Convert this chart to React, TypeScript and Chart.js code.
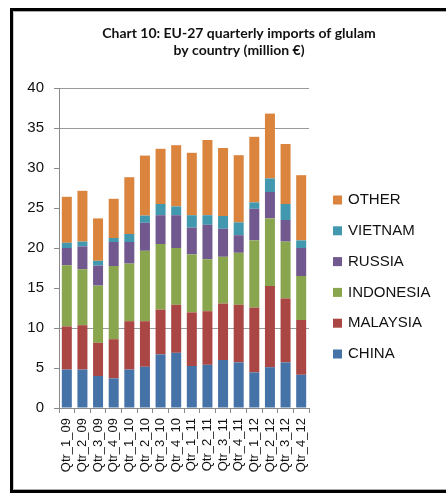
import React, { useEffect, useRef } from 'react';
import { Chart, registerables } from 'chart.js';

Chart.register(...registerables);

const titleLines = ['Chart 10: EU-27 quarterly imports of glulam', 'by country (million €)'];

const categories = [
  'Qtr_1_09', 'Qtr_2_09', 'Qtr_3_09', 'Qtr_4_09',
  'Qtr_1_10', 'Qtr_2_10', 'Qtr_3_10', 'Qtr_4_10',
  'Qtr_1_11', 'Qtr_2_11', 'Qtr_3_11', 'Qtr_4_11',
  'Qtr_1_12', 'Qtr_2_12', 'Qtr_3_12', 'Qtr_4_12',
];

const china = [4.8, 4.8, 4.0, 3.7, 4.8, 5.15, 6.7, 6.9, 5.25, 5.4, 6.0, 5.7, 4.45, 5.1, 5.7, 4.15];
const malaysia = [5.4, 5.55, 4.15, 4.9, 6.05, 5.7, 5.6, 6.0, 6.7, 6.7, 7.05, 7.2, 8.1, 10.15, 8.0, 6.85];
const indonesia = [7.65, 7.0, 7.15, 9.15, 7.2, 8.8, 8.2, 7.1, 7.25, 6.5, 5.85, 6.5, 8.4, 8.45, 7.1, 5.5];
const russia = [2.15, 2.85, 2.5, 3.0, 2.7, 3.5, 3.6, 4.1, 3.35, 4.3, 3.5, 2.2, 3.95, 3.3, 2.7, 3.5];
const vietnam = [0.65, 0.6, 0.6, 0.5, 1.0, 0.9, 1.4, 1.1, 1.55, 1.2, 1.6, 1.6, 0.8, 1.7, 2.0, 0.95];
const other = [5.75, 6.35, 5.3, 4.9, 7.1, 7.5, 6.9, 7.65, 7.8, 9.4, 8.5, 8.4, 8.2, 8.1, 7.5, 8.15];

const seriesNames = ['CHINA', 'MALAYSIA', 'INDONESIA', 'RUSSIA', 'VIETNAM', 'OTHER'];
const seriesColors = ['#4572A7', '#AA4643', '#89A54E', '#71588F', '#4198AF', '#DB843D'];
const seriesValues = [china, malaysia, indonesia, russia, vietnam, other];

const yMin = 0;
const yMax = 40;
const yStep = 5;
const visibleGridValues = [10, 35, 40];

const FONT = '"Liberation Sans", Arial, sans-serif';

// The original chart is cropped on the right: draw on a wider canvas, show 446px.
const CANVAS_W = 470;
const CANVAS_H = 493;

const sideLegend = {
  id: 'sideLegend',
  afterDraw(chart: any) {
    const ctx = chart.ctx;
    const ds = chart.data.datasets;
    const x = chart.chartArea.right + 24;
    let y = 200;
    ctx.save();
    ctx.font = `15px ${FONT}`;
    ctx.textBaseline = 'middle';
    ctx.textAlign = 'left';
    for (let i = ds.length - 1; i >= 0; i--) {
      ctx.fillStyle = ds[i].backgroundColor;
      ctx.fillRect(x, y - 4.5, 9, 9);
      ctx.fillStyle = '#111';
      ctx.fillText(ds[i].label, x + 15, y);
      y += 30.8;
    }
    ctx.restore();
  },
};

export default function App() {
  const ref = useRef<HTMLCanvasElement | null>(null);

  useEffect(() => {
    if (!ref.current) return;
    const chart = new Chart(ref.current, {
      type: 'bar',
      data: {
        labels: categories,
        datasets: seriesNames.map((name, i) => ({
          label: name,
          data: seriesValues[i],
          backgroundColor: seriesColors[i],
          borderWidth: 0,
          categoryPercentage: 1,
          barPercentage: 0.64,
        })),
      },
      options: {
        responsive: false,
        animation: false,
        layout: { padding: { left: 8, right: 0, top: 0, bottom: 0 } },
        plugins: {
          legend: { display: false },
          tooltip: { enabled: false },
          title: {
            display: true,
            text: titleLines,
            color: '#111',
            font: { family: 'Lato, ' + FONT, size: 14, weight: 'bold', lineHeight: 1.2 },
            padding: { top: 25, bottom: 29.4 },
          },
        },
        scales: {
          x: {
            stacked: true,
            grid: {
              display: true,
              offset: true,
              drawOnChartArea: false,
              drawTicks: true,
              tickLength: 5,
              tickColor: '#8a8a8a',
            },
            border: { display: true, color: '#8a8a8a', width: 1 },
            ticks: {
              autoSkip: false,
              minRotation: 90,
              maxRotation: 90,
              padding: 5,
              color: '#111',
              font: { family: FONT, size: 13 },
            },
            afterFit: (s: any) => { s.height = 85; },
          },
          y: {
            stacked: true,
            min: yMin,
            max: yMax,
            ticks: {
              stepSize: yStep,
              padding: 10,
              color: '#111',
              font: { family: FONT, size: 15 },
            },
            grid: {
              drawTicks: true,
              tickLength: 5,
              tickColor: '#8a8a8a',
              color: (c: any) => (c.tick && visibleGridValues.includes(c.tick.value) ? '#9a9a9a' : 'rgba(0,0,0,0)'),
              lineWidth: 1,
            },
            border: { display: true, color: '#8a8a8a', width: 1 },
            afterFit: (s: any) => { s.width = 51; },
          },
          spacer: {
            type: 'linear',
            position: 'right',
            display: true,
            grid: { display: false, drawTicks: false },
            ticks: { display: false },
            border: { display: false },
            afterFit: (s: any) => { s.width = CANVAS_W - 309; },
          },
        },
      },
      plugins: [sideLegend],
    } as any);
    return () => chart.destroy();
  }, []);

  return (
    <div style={{ position: 'fixed', left: 0, top: 0, width: 446, height: 493, background: '#fff', overflow: 'hidden' }}>
      <canvas ref={ref} width={CANVAS_W} height={CANVAS_H} style={{ position: 'absolute', left: 0, top: 0, width: CANVAS_W, height: CANVAS_H }} />
      <div
        style={{
          position: 'absolute', left: 10, top: 8, width: 480, height: 479,
          borderTop: '3px solid #000', borderLeft: '3px solid #000', borderBottom: '3px solid #000',
          pointerEvents: 'none',
        }}
      >
        <div style={{ position: 'absolute', left: 0, top: 0, right: 0, bottom: 0, borderTop: '1px solid #aaa', borderBottom: '1px solid #aaa', borderLeft: '1px solid #ccc' }} />
      </div>
    </div>
  );
}
